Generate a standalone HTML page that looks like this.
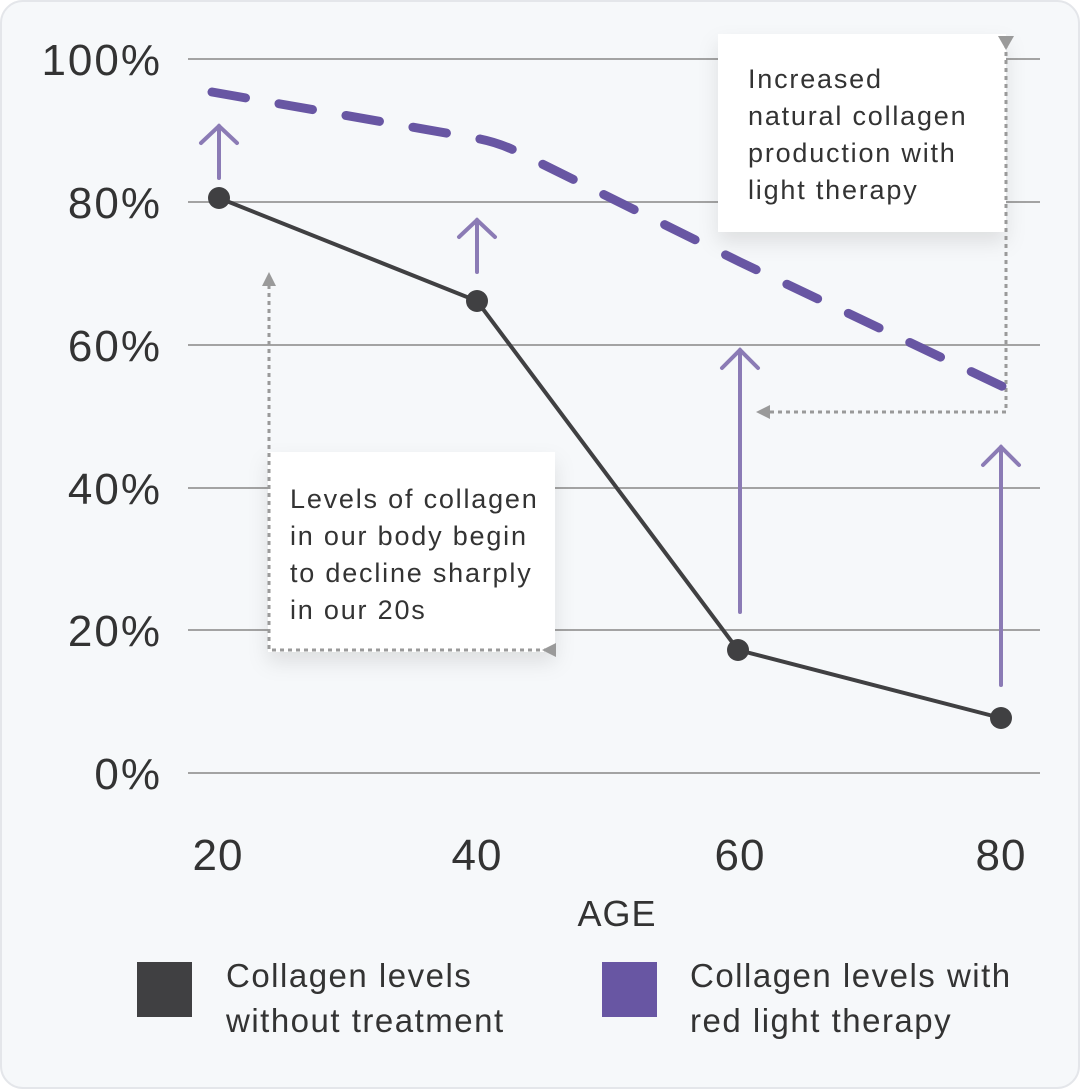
<!DOCTYPE html>
<html><head><style>
html,body{margin:0;padding:0;background:#fff}
svg{display:block}
text{font-family:"Liberation Sans",sans-serif;fill:#333}
</style></head><body>
<svg width="1080" height="1089" viewBox="0 0 1080 1089">
<defs>
<filter id="sh" x="-20%" y="-20%" width="140%" height="150%"><feDropShadow dx="0" dy="10" stdDeviation="10" flood-color="#000" flood-opacity="0.10"/></filter>
</defs>
<rect x="1" y="1" width="1078" height="1087" rx="22" fill="#f6f8fa" stroke="#e4e6ea" stroke-width="2"/>
<g stroke="#a3a3a3" stroke-width="2">
<line x1="188" y1="59" x2="1040" y2="59"/>
<line x1="188" y1="202" x2="1040" y2="202"/>
<line x1="188" y1="345" x2="1040" y2="345"/>
<line x1="188" y1="488" x2="1040" y2="488"/>
<line x1="188" y1="630" x2="1040" y2="630"/>
<line x1="188" y1="773" x2="1040" y2="773"/>
</g>
<g font-size="44" text-anchor="end" letter-spacing="2">
<text x="162" y="75">100%</text>
<text x="162" y="218">80%</text>
<text x="162" y="361">60%</text>
<text x="162" y="504">40%</text>
<text x="162" y="646">20%</text>
<text x="162" y="789">0%</text>
</g>
<g font-size="44" text-anchor="middle" letter-spacing="1">
<text x="218" y="870">20</text>
<text x="477" y="870">40</text>
<text x="740" y="870">60</text>
<text x="1001" y="870">80</text>
</g>
<text x="617" y="926" font-size="36" text-anchor="middle" fill="#111" letter-spacing="1">AGE</text>
<rect x="718" y="34" width="288" height="198" fill="#fff" filter="url(#sh)"/>
<rect x="268" y="452" width="287" height="200" fill="#fff" filter="url(#sh)"/>
<g font-size="27" fill="#333" letter-spacing="1.8">
<text x="748" y="88">Increased</text>
<text x="748" y="125">natural collagen</text>
<text x="748" y="162">production with</text>
<text x="748" y="199">light therapy</text>
<text x="290" y="508">Levels of collagen</text>
<text x="290" y="545">in our body begin</text>
<text x="290" y="582">to decline sharply</text>
<text x="290" y="619">in our 20s</text>
</g>
<g stroke="#9a9a9a" stroke-width="3" stroke-dasharray="4 4" fill="none">
<polyline points="1006,44 1006,412 770,412"/>
<polyline points="269,285 269,650 545,650"/>
</g>
<g fill="#9a9a9a">
<polygon points="998,36 1014,36 1006,50"/>
<polygon points="756,412 770,405 770,419"/>
<polygon points="262,286 276,286 269,272"/>
<polygon points="556,643 556,657 542,650"/>
</g>
<g stroke="#8b7bb5" stroke-width="4" fill="none" stroke-linecap="round">
<line x1="219" y1="178" x2="219" y2="126"/><polyline points="201,143 219,126 237,143"/>
<line x1="477" y1="272" x2="477" y2="220"/><polyline points="459,237 477,220 495,237"/>
<line x1="740" y1="612" x2="740" y2="350"/><polyline points="722,368 740,350 758,368"/>
<line x1="1001" y1="685" x2="1001" y2="447"/><polyline points="983,465 1001,447 1019,465"/>
</g>
<path d="M212,92 L480,139 Q500,143 520,153 L740,262 L1010,390" fill="none" stroke="#6856a3" stroke-width="9" stroke-linecap="round" stroke-dasharray="34 34"/>
<polyline points="219,198 477,301 738,650 1001,718" fill="none" stroke="#404042" stroke-width="4"/>
<g fill="#404042">
<circle cx="219" cy="198" r="11"/><circle cx="477" cy="301" r="11"/>
<circle cx="738" cy="650" r="11"/><circle cx="1001" cy="718" r="11"/>
</g>
<rect x="137" y="962" width="55" height="55" fill="#404042"/>
<rect x="602" y="962" width="55" height="55" fill="#6856a3"/>
<g font-size="33" fill="#333" letter-spacing="1.5">
<text x="226" y="987">Collagen levels</text>
<text x="226" y="1032">without treatment</text>
<text x="690" y="987">Collagen levels with</text>
<text x="690" y="1032">red light therapy</text>
</g>
</svg>
</body></html>
